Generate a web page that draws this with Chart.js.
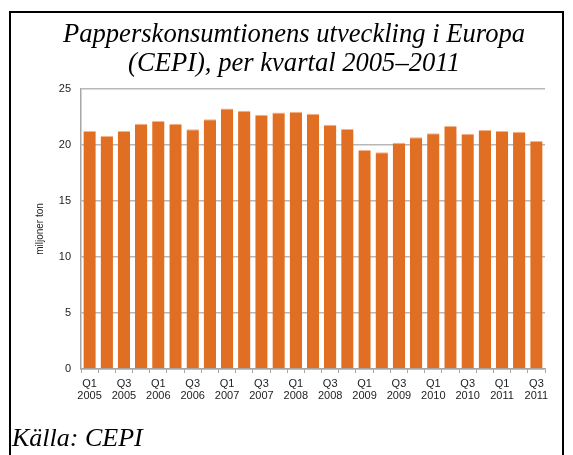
<!DOCTYPE html>
<html>
<head>
<meta charset="utf-8">
<script src="https://cdn.jsdelivr.net/npm/chart.js@4"></script>
<style>
  body { margin: 0; background: #fff; }
  #wrap { position: relative; width: 573px; height: 455px; overflow: hidden; }
  #frame { position: absolute; left: 9px; top: 11px; width: 551px; height: 470px; border: 2px solid #000; }
  #title { position: absolute; left: 44px; width: 500px; top: 19px; text-align: center;
           font: italic 26.6px/29px "Liberation Serif", serif; color: #000; }
  #source { position: absolute; left: 12px; top: 423px; font: italic 26px/29px "Liberation Serif", serif; color: #000; }
  canvas { position: absolute; left: 0; top: 0; }
</style>
</head>
<body>
<div id="wrap">
  <canvas id="paperChart" width="573" height="455"></canvas>
  <div id="frame"></div>
  <div id="title">Papperskonsumtionens utveckling i Europa<br>(CEPI), per kvartal 2005–2011</div>
  <div id="source">Källa: CEPI</div>
</div>
<script>
//data arrays
const quarters = ['Q1','Q2','Q3','Q4','Q1','Q2','Q3','Q4','Q1','Q2','Q3','Q4','Q1','Q2','Q3','Q4',
                  'Q1','Q2','Q3','Q4','Q1','Q2','Q3','Q4','Q1','Q2','Q3'];
const years = ['2005','2005','2005','2005','2006','2006','2006','2006','2007','2007','2007','2007',
               '2008','2008','2008','2008','2009','2009','2009','2009','2010','2010','2010','2010',
               '2011','2011','2011'];
const consumption = [21.25, 20.8, 21.25, 21.9, 22.15, 21.9, 21.4, 22.3, 23.25, 23.05, 22.7, 22.9,
                     22.97, 22.8, 21.8, 21.43, 19.55, 19.35, 20.2, 20.7, 21.04, 21.7, 21.0, 21.34,
                     21.25, 21.19, 20.36];
const yTicks = [0, 5, 10, 15, 20, 25];

const labels = quarters.map((q, i) => [q, years[i]]);

let config = {
    type: 'bar',
    data: {
        labels: labels,
        datasets: [{
            label: 'miljoner ton',
            data: consumption,
            backgroundColor: '#e06f23',
            borderColor: '#f3b489',
            borderWidth: { top: 1, right: 0, left: 0, bottom: 0 },
            borderSkipped: false,
            categoryPercentage: 1,
            barPercentage: 0.72
        }]
    },
    options: {
        responsive: false,
        animation: false,
        layout: { padding: { left: 34, right: 28, top: 89, bottom: 51 } },
        plugins: {
            legend: { display: false },
            tooltip: { enabled: false }
        },
        scales: {
            x: {
                offset: true,
                grid: {
                    offset: true,
                    drawOnChartArea: false,
                    tickLength: 4,
                    color: '#a6a6a6'
                },
                border: { color: '#a6a6a6', width: 1.5 },
                ticks: {
                    autoSkip: false,
                    maxRotation: 0,
                    padding: 5,
                    color: '#222',
                    font: { family: 'Liberation Sans', size: 11, lineHeight: 1.1 },
                    callback: function (value, index) {
                        return index % 2 === 0 ? labels[index] : '';
                    }
                },
                afterFit: (s) => { s.height = 35; }
            },
            y: {
                min: 0,
                max: 25,
                afterBuildTicks: (s) => { s.ticks = yTicks.map(v => ({ value: v })); },
                grid: { color: '#b8b8b8', lineWidth: 1.5, drawTicks: false },
                border: { color: '#a6a6a6', width: 1.5 },
                ticks: {
                    padding: 10,
                    color: '#222',
                    font: { family: 'Liberation Sans', size: 11 }
                },
                title: {
                    display: true,
                    text: 'miljoner ton',
                    color: '#222',
                    padding: { top: 0, bottom: 4 },
                    font: { family: 'Liberation Sans', size: 10 }
                },
                afterFit: (s) => { s.width = 47; }
            }
        }
    }
};

new Chart(document.getElementById('paperChart'), config);
</script>
</body>
</html>
